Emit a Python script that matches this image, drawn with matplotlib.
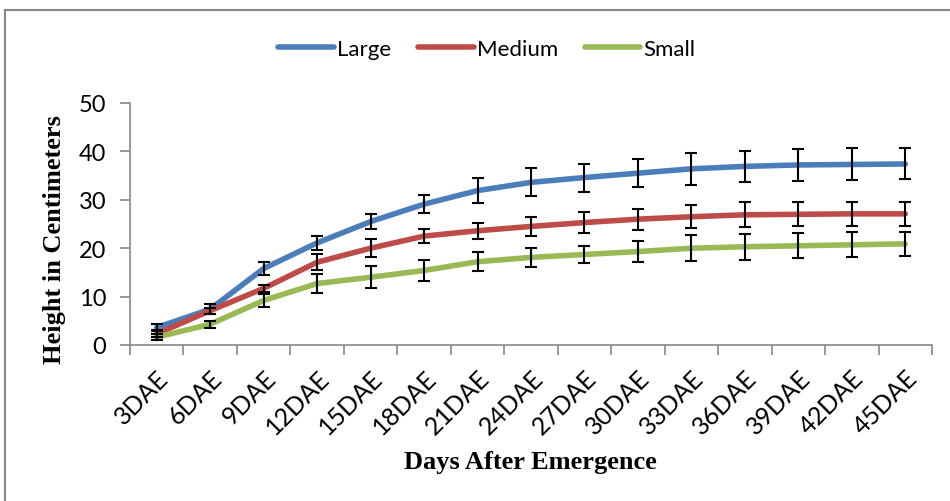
import matplotlib.pyplot as plt
import matplotlib.patches as patches
import numpy as np

# data
days = ['3DAE', '6DAE', '9DAE', '12DAE', '15DAE', '18DAE', '21DAE', '24DAE',
        '27DAE', '30DAE', '33DAE', '36DAE', '39DAE', '42DAE', '45DAE']
large = [3.6, 7.4, 15.8, 21.1, 25.5, 29.1, 31.9, 33.6, 34.6, 35.5, 36.4, 36.9, 37.2, 37.3, 37.4]
large_err = [0.8, 1.0, 1.4, 1.5, 1.5, 1.9, 2.6, 2.9, 2.9, 2.9, 3.3, 3.2, 3.3, 3.3, 3.2]
medium = [2.3, 7.1, 11.7, 17.1, 20.0, 22.5, 23.6, 24.5, 25.3, 26.0, 26.5, 26.9, 27.0, 27.1, 27.1]
medium_err = [0.7, 0.6, 0.8, 1.6, 1.8, 1.4, 1.7, 1.9, 2.1, 2.2, 2.4, 2.6, 2.5, 2.5, 2.5]
small = [1.6, 4.3, 9.2, 12.7, 14.0, 15.4, 17.2, 18.1, 18.7, 19.3, 20.0, 20.3, 20.5, 20.7, 20.9]
small_err = [0.6, 0.7, 1.4, 1.9, 2.3, 2.1, 2.0, 1.9, 1.8, 2.2, 2.7, 2.7, 2.6, 2.6, 2.5]

series = [('Large', large, large_err, '#4a7ebb'),
          ('Medium', medium, medium_err, '#be4b48'),
          ('Small', small, small_err, '#98b954')]

plt.rcParams['font.family'] = ['Lato', 'DejaVu Sans']

fig = plt.figure(figsize=(9.5, 5.02), dpi=100)
ax = fig.add_axes([130 / 950, 1 - 346 / 502, 802 / 950, 242 / 502])

# outer chart border (only top and left visible)
fig.patches.append(patches.Rectangle((5 / 950, -0.1), 1.2, 1 - 11 / 502 + 0.1,
                                     transform=fig.transFigure, fill=False,
                                     edgecolor='#888888', linewidth=1.5))

x = np.arange(len(days))
for name, vals, errs, col in series:
    ax.plot(x, vals, color=col, linewidth=4, label=name, solid_capstyle='round', zorder=2)
for name, vals, errs, col in series:
    ax.errorbar(x, vals, yerr=errs, fmt='none', ecolor='black', elinewidth=1.5,
                capsize=4, capthick=1.5, zorder=3)

ax.set_xlim(-0.5, len(days) - 0.5)
ax.set_ylim(0, 50)
ax.set_yticks([0, 10, 20, 30, 40, 50])
ax.set_xticks(x)
ax.set_xticklabels(days, rotation=45, ha='right', va='top', rotation_mode='anchor')
ax.set_xticks(np.arange(-0.5, len(days)), minor=True)
ax.tick_params(axis='x', which='major', length=0, pad=15, labelsize=18)
ax.tick_params(axis='x', which='minor', length=7, color='#888888', width=1.2)
ax.tick_params(axis='y', length=7, color='#888888', width=1.2, labelsize=17, pad=10)

for s in ['top', 'right']:
    ax.spines[s].set_visible(False)
for s in ['left', 'bottom']:
    ax.spines[s].set_color('#888888')
    ax.spines[s].set_linewidth(1.2)

fig.text(55 / 950, 1 - 240 / 502, 'Height in Centimeters', rotation=90, ha='center', va='center',
         fontsize=19, fontweight='bold', family='Liberation Serif')
fig.text(530 / 950, 1 - 463 / 502, 'Days After Emergence', ha='center', va='center',
         fontsize=19, fontweight='bold', family='Liberation Serif')

fig.legend(loc='center', bbox_to_anchor=(487 / 950, 1 - 50 / 502), ncol=3, frameon=False,
           fontsize=16, handlelength=2.5, handletextpad=0.15, columnspacing=1.2)

fig.savefig('out.png', dpi=100)
